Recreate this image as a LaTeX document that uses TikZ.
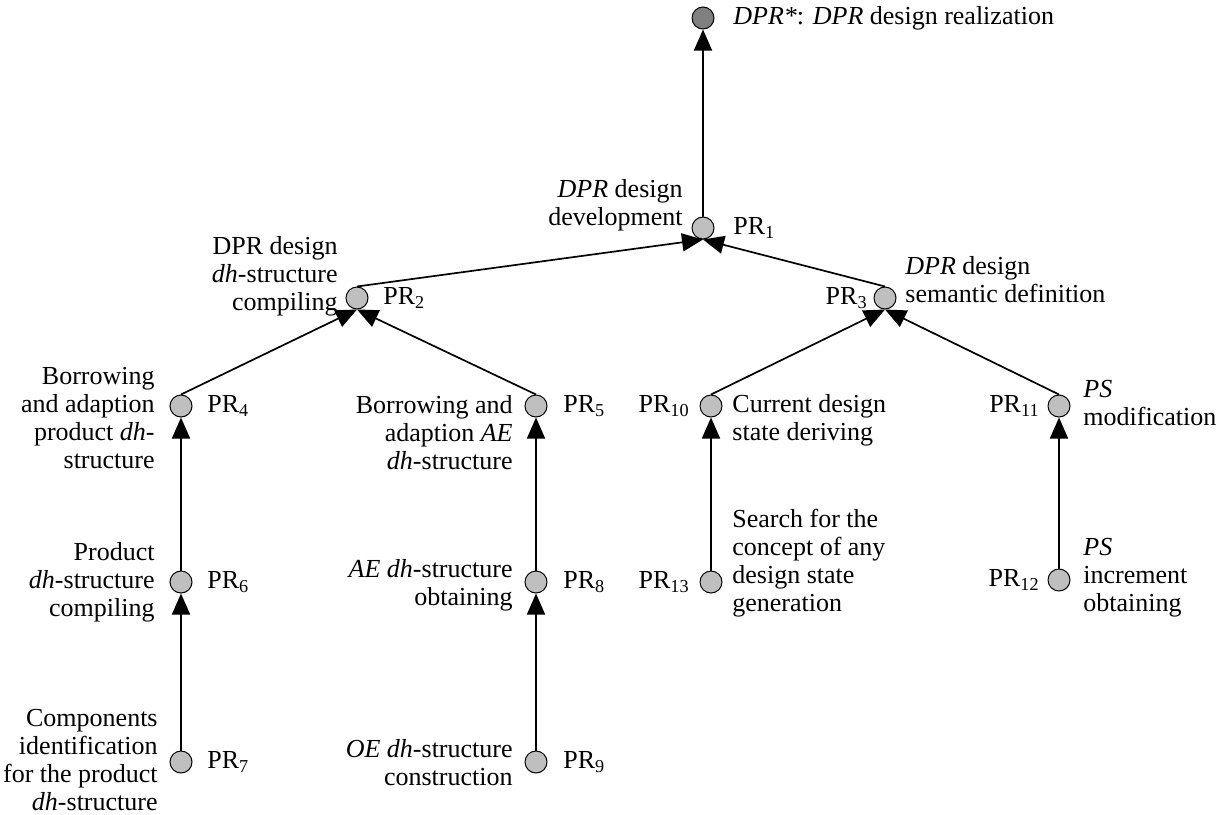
\documentclass[tikz,border=0pt]{standalone}
\usepackage{fontspec}
\setmainfont{Liberation Serif}
\usetikzlibrary{arrows.meta}

\begin{document}
\begin{tikzpicture}[x=0.5pt,y=-0.5pt,
  pr/.style={circle,draw,fill=black!25,minimum size=11pt,inner sep=0pt,line width=0.5pt},
  goal/.style={pr,fill=black!50},
  lbl/.style={inner sep=0pt,font=\fontsize{13}{14}\selectfont},
  txt/.style={lbl,align=left},
  rtxt/.style={lbl,align=right},
  link/.style={line width=0.85pt,-{Triangle[length=10.5pt,width=9pt]}}]

\useasboundingbox (0,0) rectangle (1220,814);

\node [goal] (G) at (703,18) {};
\node [txt,anchor=west] at (733,18) {\textit{DPR*}: \textit{DPR} design realization};

\node [pr] (PR1) at (703,228) {};
\node [lbl,anchor=west] at (733,228) {PR\textsubscript{1}};
\node [rtxt,anchor=east] at (683,205) {\textit{DPR} design\\development};

\node [pr] (PR2) at (357,298) {};
\node [lbl,anchor=west] at (383,298) {PR\textsubscript{2}};
\node [rtxt,anchor=east] at (338,276) {DPR design\\\textit{dh}-structure\\compiling};

\node [pr] (PR3) at (885,298) {};
\node [lbl,anchor=east] at (868,298) {PR\textsubscript{3}};
\node [txt,anchor=west] at (905,280) {\textit{DPR} design\\semantic definition};

\node [pr] (PR4) at (181,406) {};
\node [lbl,anchor=west] at (207,406) {PR\textsubscript{4}};
\node [rtxt,anchor=east] at (155,418) {Borrowing\\and adaption\\product \textit{dh}-\\structure};

\node [pr] (PR5) at (536,406) {};
\node [lbl,anchor=west] at (563,406) {PR\textsubscript{5}};
\node [rtxt,anchor=east] at (513,433) {Borrowing and\\adaption \textit{AE}\\\textit{dh}-structure};

\node [pr] (PR10) at (711,406) {};
\node [lbl,anchor=east] at (690,406) {PR\textsubscript{10}};
\node [txt,anchor=west] at (732,420) {Current design\\state deriving};

\node [pr] (PR11) at (1059,406) {};
\node [lbl,anchor=east] at (1040,406) {PR\textsubscript{11}};
\node [txt,anchor=west] at (1083,403) {\textit{PS}\\modification};

\node [pr] (PR6) at (181,582) {};
\node [lbl,anchor=west] at (207,582) {PR\textsubscript{6}};
\node [rtxt,anchor=east] at (155,582) {Product\\\textit{dh}-structure\\compiling};

\node [pr] (PR8) at (536,582) {};
\node [lbl,anchor=west] at (563,582) {PR\textsubscript{8}};
\node [rtxt,anchor=east] at (513,585) {\textit{AE dh}-structure\\obtaining};

\node [pr] (PR13) at (711,582) {};
\node [lbl,anchor=east] at (690,582) {PR\textsubscript{13}};
\node [txt,anchor=west] at (732,563) {Search for the\\concept of any\\design state\\generation};

\node [pr] (PR12) at (1059,580) {};
\node [lbl,anchor=east] at (1040,580) {PR\textsubscript{12}};
\node [txt,anchor=west] at (1083,578) {\textit{PS}\\increment\\obtaining};

\node [pr] (PR7) at (181,762) {};
\node [lbl,anchor=west] at (207,762) {PR\textsubscript{7}};
\node [rtxt,anchor=east] at (158,760) {Components\\identification\\for the product\\\textit{dh}-structure};

\node [pr] (PR9) at (536,762) {};
\node [lbl,anchor=west] at (563,762) {PR\textsubscript{9}};
\node [rtxt,anchor=east] at (513,763) {\textit{OE dh}-structure\\construction};

\draw [link] (PR1.north) -- (G.south);
\draw [link] (PR2.north) -- (PR1.south);
\draw [link] (PR3.north) -- (PR1.south);
\draw [link] (PR4.north) -- (PR2.south);
\draw [link] (PR5.north) -- (PR2.south);
\draw [link] (PR10.north) -- (PR3.south);
\draw [link] (PR11.north) -- (PR3.south);
\draw [link] (PR6.north) -- (PR4.south);
\draw [link] (PR7.north) -- (PR6.south);
\draw [link] (PR8.north) -- (PR5.south);
\draw [link] (PR9.north) -- (PR8.south);
\draw [link] (PR13.north) -- (PR10.south);
\draw [link] (PR12.north) -- (PR11.south);

\end{tikzpicture}
\end{document}
